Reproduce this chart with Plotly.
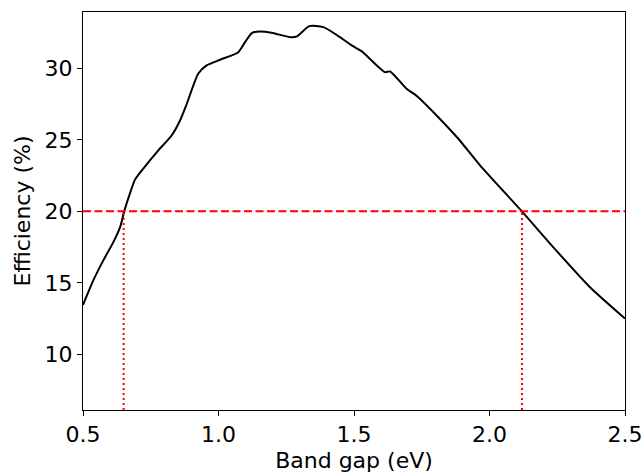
import plotly.graph_objects as go

band_gap = [0.5, 0.538, 0.575, 0.612, 0.637, 0.652, 0.673, 0.692, 0.7225, 0.778, 0.827, 0.858,
            0.883, 0.925, 0.956, 1.006, 1.073, 1.098, 1.123, 1.153, 1.196, 1.264, 1.289,
            1.335, 1.387, 1.448, 1.4915, 1.528, 1.614, 1.633, 1.694, 1.734, 1.811, 1.885,
            1.965, 2.122, 2.235, 2.370, 2.5]
efficiency = [13.45, 15.17, 16.57, 17.85, 18.90, 20.0, 21.24, 22.22, 22.99, 24.27, 25.31, 26.36,
              27.53, 29.63, 30.21, 30.61, 31.14, 31.84, 32.47, 32.59, 32.50, 32.19, 32.24,
              32.96, 32.89, 32.19, 31.61, 31.21, 29.74, 29.79, 28.58, 28.04, 26.59, 25.08,
              23.22, 19.95, 17.50, 14.71, 12.50]

threshold = 20
crossings = [0.65, 2.12]
x_range = [0.5, 2.5]
y_range = [6.1, 33.95]

fig = go.Figure()
fig.add_trace(go.Scatter(x=band_gap, y=efficiency, mode="lines",
                         line=dict(color="black", width=2, shape="spline", smoothing=0.6),
                         showlegend=False))
fig.add_trace(go.Scatter(x=x_range, y=[threshold, threshold], mode="lines",
                         line=dict(color="red", width=2, dash="8px,3.5px"), showlegend=False))
for c in crossings:
    fig.add_trace(go.Scatter(x=[c, c], y=[y_range[0], threshold], mode="lines",
                             line=dict(color="red", width=2, dash="2px,3px"), showlegend=False))

font = dict(family="DejaVu Sans", size=22, color="black")
fig.update_layout(
    width=643, height=473,
    margin=dict(l=83, r=18, t=12, b=63),
    plot_bgcolor="white", paper_bgcolor="white",
    font=font,
    xaxis=dict(range=x_range, tickvals=[0.5, 1.0, 1.5, 2.0, 2.5], tickformat=".1f",
               ticks="outside", ticklen=5, tickwidth=1, tickcolor="black",
               showline=True, linecolor="black", linewidth=1, mirror=True,
               showgrid=False, zeroline=False, automargin=False,
               ticklabeloverflow="allow",
               title=dict(text="Band gap (eV)", font=font, standoff=6)),
    yaxis=dict(range=y_range, tickvals=[10, 15, 20, 25, 30],
               ticks="outside", ticklen=5, tickwidth=1, tickcolor="black",
               showline=True, linecolor="black", linewidth=1, mirror=True,
               showgrid=False, zeroline=False, automargin=False,
               ticklabeloverflow="allow",
               title=dict(text="Efficiency (%)", font=font, standoff=7)),
)
fig.write_html("out.html")
